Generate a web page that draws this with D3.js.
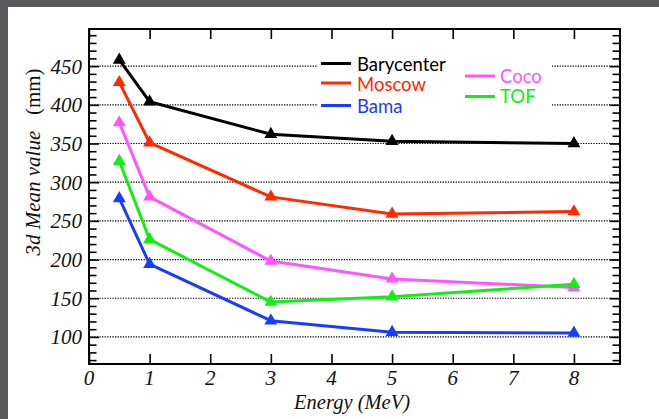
<!DOCTYPE html>
<html><head><meta charset="utf-8">
<script src="https://cdn.jsdelivr.net/npm/d3@7"></script>
<style>
html,body{margin:0;padding:0;background:#5b5b5f;}
svg{display:block;}
</style>
</head><body>
<svg id="chart" width="659" height="419"></svg>
<script>
const energies = [0.5, 1, 3, 5, 8];
const seriesNames = ["Barycenter", "Moscow", "Bama", "Coco", "TOF"];
const barycenter = [458, 404, 362, 353, 350];
const moscow = [429, 351, 281, 259, 262];
const bama = [279, 194, 121, 106, 105];
const coco = [377, 281, 198, 175, 164];
const tof = [327, 226, 145, 152, 168];
const xTickLabels = ["0","1","2","3","4","5","6","7","8"];
const yTickLabels = ["100","150","200","250","300","350","400","450"];

const colors = {Barycenter:"#000000", Moscow:"#ff2a00", Bama:"#1a3cff", Coco:"#ff55ff", TOF:"#11ee11"};
const values = {Barycenter:barycenter, Moscow:moscow, Bama:bama, Coco:coco, TOF:tof};

const svg = d3.select("#chart");
svg.append("rect").attr("x",8).attr("y",7).attr("width",651).attr("height",412).attr("fill","#fff");

const L=89, R=620, T=29, B=364;
const x = d3.scaleLinear().domain([0, 8.76]).range([L, R]);
const y = d3.scaleLinear().domain([65, 498]).range([B, T]);

const g = svg.append("g");
g.selectAll("line.grid").data(yTickLabels).join("line")
  .attr("x1",L).attr("x2",R)
  .attr("y1",d=>y(+d)).attr("y2",d=>y(+d))
  .attr("stroke","#000").attr("stroke-width",1.2).attr("stroke-dasharray","1.3,1.3");

svg.append("rect").attr("x",318).attr("y",42).attr("width",234).attr("height",78).attr("fill","#fff");

const yMinor = d3.range(70, 498, 10);
const axL = d3.axisRight(y).tickValues(yMinor).tickSizeInner(0).tickSizeOuter(0).tickFormat("");
const gl = svg.append("g").attr("transform",`translate(${L},0)`).call(axL);
gl.selectAll(".tick line").attr("x2", d=> d%50===0 ? 10 : 7.5).attr("stroke-width",1.6);
gl.select(".domain").remove();
const axR = d3.axisLeft(y).tickValues(yMinor).tickSizeInner(0).tickSizeOuter(0).tickFormat("");
const gr = svg.append("g").attr("transform",`translate(${R},0)`).call(axR);
gr.selectAll(".tick line").attr("x2", d=> d%50===0 ? -10 : -7.5).attr("stroke-width",1.6);
gr.select(".domain").remove();

const xMajor = xTickLabels.map(Number);
const axB = d3.axisTop(x).tickValues(xMajor).tickSize(10).tickSizeOuter(0).tickFormat("");
const gb = svg.append("g").attr("transform",`translate(0,${B})`).call(axB);
gb.select(".domain").remove(); gb.selectAll(".tick line").attr("stroke-width",1.6);
const axT = d3.axisBottom(x).tickValues(xMajor).tickSize(10).tickSizeOuter(0).tickFormat("");
const gt = svg.append("g").attr("transform",`translate(0,${T})`).call(axT);
gt.select(".domain").remove(); gt.selectAll(".tick line").attr("stroke-width",1.6);

const serif = "'Liberation Serif','DejaVu Serif',serif";
svg.append("g").selectAll("text").data(yTickLabels).join("text")
  .attr("x",82).attr("y",d=>y(+d)).attr("dy","0.36em")
  .attr("text-anchor","end").attr("font-family",serif).attr("font-style","italic")
  .attr("font-size",21).attr("fill","#111").text(d=>d);
svg.append("g").selectAll("text").data(xTickLabels).join("text")
  .attr("x",d=>x(+d)).attr("y",385)
  .attr("text-anchor","middle").attr("font-family",serif).attr("font-style","italic")
  .attr("font-size",21).attr("fill","#111").text(d=>d);

svg.append("text").attr("x",410).attr("y",409).attr("text-anchor","end")
  .attr("font-family",serif).attr("font-style","italic").attr("font-size",20.5).attr("fill","#111")
  .text("Energy (MeV)");
const yt = svg.append("text").attr("transform","translate(40,162) rotate(-90)").attr("text-anchor","middle")
  .attr("font-family",serif).attr("font-size",21).attr("fill","#111");
yt.append("tspan").attr("font-style","italic").text("3d Mean value");
yt.append("tspan").text("\u00a0\u00a0\u00a0(mm)");

const line = d3.line().x((d,i)=>x(energies[i])).y(d=>y(d));
const tri = d3.symbol().type(d3.symbolTriangle).size(72);
seriesNames.forEach(name=>{
  svg.append("path").datum(values[name]).attr("d",line)
    .attr("fill","none").attr("stroke",colors[name]).attr("stroke-width",3).attr("stroke-linejoin","round");
  svg.append("g").selectAll("path").data(values[name]).join("path")
    .attr("d",tri).attr("transform",(d,i)=>`translate(${x(energies[i])},${y(d)})`)
    .attr("fill",colors[name]);
});

svg.append("rect").attr("x",L).attr("y",T).attr("width",R-L).attr("height",B-T)
  .attr("fill","none").attr("stroke","#000").attr("stroke-width",2);

const legendRows = [
  {name:"Barycenter", lx:321, ly:63.5, tx:357, ty:71},
  {name:"Moscow", lx:321, ly:83, tx:357, ty:91},
  {name:"Bama", lx:321, ly:105.5, tx:357, ty:113},
  {name:"Coco", lx:465, ly:76, tx:500, ty:83},
  {name:"TOF", lx:465, ly:96.5, tx:500, ty:103}
];
const lg = svg.append("g");
legendRows.forEach(r=>{
  lg.append("line").attr("x1",r.lx).attr("x2",r.lx+30).attr("y1",r.ly).attr("y2",r.ly)
    .attr("stroke",colors[r.name]).attr("stroke-width",3);
  lg.append("text").attr("x",r.tx).attr("y",r.ty).attr("font-family","Lato, 'Open Sans', sans-serif")
    .attr("font-size",18.5).attr("fill",colors[r.name]).text(r.name);
});
</script>
</body></html>
